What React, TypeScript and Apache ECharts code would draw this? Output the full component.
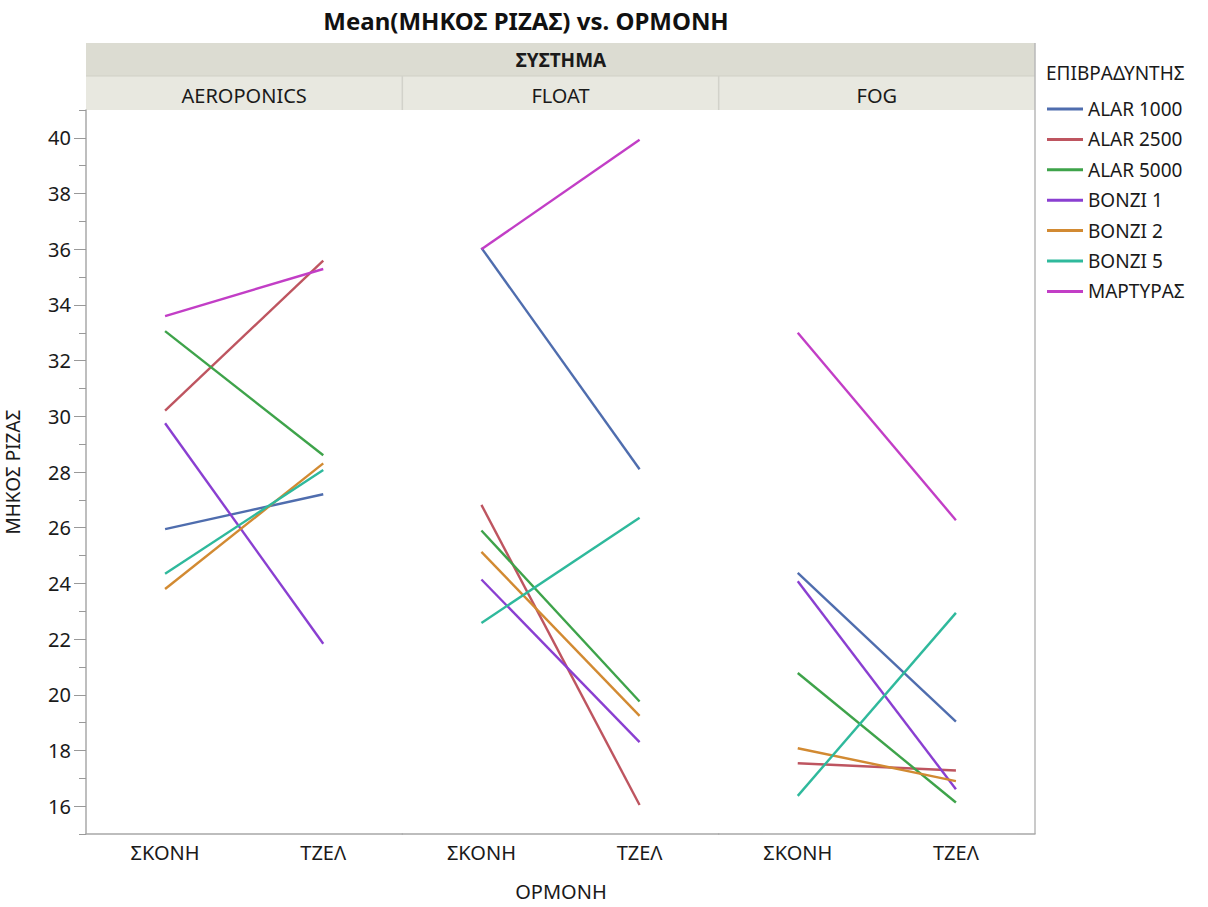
import React, { useEffect, useRef } from "react";
import * as echarts from "echarts";

const categories = ["ΣΚΟΝΗ", "ΤΖΕΛ"];
const systems = ["AEROPONICS", "FLOAT", "FOG"];
const treatments = ["ALAR 1000", "ALAR 2500", "ALAR 5000", "BONZI 1", "BONZI 2", "BONZI 5", "ΜΑΡΤΥΡΑΣ"];
// values per treatment: [AEROPONICS ΣΚΟΝΗ, AEROPONICS ΤΖΕΛ, FLOAT ΣΚΟΝΗ, FLOAT ΤΖΕΛ, FOG ΣΚΟΝΗ, FOG ΤΖΕΛ]
const alar1000 = [25.95, 27.2, 36.05, 28.1, 24.38, 19.04];
const alar2500 = [30.2, 35.59, 26.82, 16.04, 17.54, 17.28];
const alar5000 = [33.06, 28.6, 25.9, 19.76, 20.78, 16.13];
const bonzi1 = [29.75, 21.83, 24.14, 18.3, 24.08, 16.61];
const bonzi2 = [23.8, 28.31, 25.13, 19.24, 18.08, 16.9];
const bonzi5 = [24.35, 28.07, 22.58, 26.36, 16.37, 22.94];
const martyras = [33.6, 35.29, 36.0, 39.93, 33.0, 26.27];
const seriesValues = [alar1000, alar2500, alar5000, bonzi1, bonzi2, bonzi5, martyras];
const colors = ["#4F6DAE", "#BE5560", "#3EA34A", "#8A3FD1", "#D28A32", "#2FB99C", "#C23EC6"];
const majorTicks = [16, 18, 20, 22, 24, 26, 28, 30, 32, 34, 36, 38, 40];
const minorTicks = [15, 17, 19, 21, 23, 25, 27, 29, 31, 33, 35, 37, 39, 41];

const FONT = "'Noto Sans', 'Open Sans', sans-serif";

export default function App() {
  const ref = useRef<HTMLDivElement>(null);
  useEffect(() => {
    document.body.style.margin = "0";
    document.body.style.overflow = "hidden";
    const chart = echarts.init(ref.current!, null, { renderer: "svg" });
    const plotLeft = 86;
    const plotRight = 1035;
    const plotTop = 110;
    const plotBottom = 834;
    const pw = (plotRight - plotLeft) / 3;

    const grids = systems.map((_, i) => ({
      left: plotLeft + i * pw,
      top: plotTop,
      width: pw,
      height: plotBottom - plotTop,
    }));
    const xAxes = systems.map((_, i) => ({
      type: "category",
      gridIndex: i,
      data: categories,
      boundaryGap: true,
      axisLine: { show: true, lineStyle: { color: "#A8A8A8", width: 1.5 } },
      axisTick: { show: false },
      axisLabel: { fontSize: 20, color: "#1a1a1a", margin: 8, fontFamily: FONT },
    }));
    const yAxes: any[] = systems.map((_, i) => ({
      type: "value",
      gridIndex: i,
      min: 15,
      max: 41,
      show: i === 0,
      splitLine: { show: false },
      axisLine: { show: true, lineStyle: { color: "#A8A8A8", width: 1.5 } },
      axisTick: { show: true, length: 12, customValues: majorTicks, lineStyle: { color: "#999" } },
      axisLabel: { customValues: majorTicks, fontSize: 20, color: "#1a1a1a", margin: 15, fontFamily: FONT },
      name: i === 0 ? "ΜΗΚΟΣ ΡΙΖΑΣ" : "",
      nameLocation: "middle",
      nameGap: 64,
      nameRotate: 90,
      nameTextStyle: { fontSize: 19, color: "#1a1a1a", fontFamily: FONT },
    }));
    yAxes.push({
      type: "value",
      gridIndex: 0,
      min: 15,
      max: 41,
      position: "left",
      splitLine: { show: false },
      axisLine: { show: false },
      axisLabel: { show: false },
      axisTick: { show: true, length: 7, customValues: minorTicks, lineStyle: { color: "#999" } },
    });

    const series: any[] = [];
    treatments.forEach((t, ti) => {
      systems.forEach((_, si) => {
        series.push({
          type: "line",
          name: t,
          xAxisIndex: si,
          yAxisIndex: si,
          data: seriesValues[ti].slice(si * 2, si * 2 + 2),
          showSymbol: false,
          symbol: "none",
          lineStyle: { width: 2.4, color: colors[ti] },
          itemStyle: { color: colors[ti] },
        });
      });
    });

    const graphic: any[] = [
      { type: "rect", shape: { x: plotLeft, y: 43, width: plotRight - plotLeft, height: 33 }, style: { fill: "#DCDCD2" } },
      { type: "rect", shape: { x: plotLeft, y: 76, width: plotRight - plotLeft, height: 34 }, style: { fill: "#E8E8E0" } },
      { type: "line", shape: { x1: plotLeft, y1: 76, x2: plotRight, y2: 76 }, style: { stroke: "#D0D0C6", lineWidth: 1 } },
      { type: "line", shape: { x1: plotLeft + pw, y1: 76, x2: plotLeft + pw, y2: 110 }, style: { stroke: "#D2D2CA", lineWidth: 1.5 } },
      { type: "line", shape: { x1: plotLeft + 2 * pw, y1: 76, x2: plotLeft + 2 * pw, y2: 110 }, style: { stroke: "#D2D2CA", lineWidth: 1.5 } },
      { type: "line", shape: { x1: plotRight, y1: 43, x2: plotRight, y2: plotBottom }, style: { stroke: "#B8B8B8", lineWidth: 1.5 } },
      {
        type: "text", x: 526, y: 20,
        style: { text: "Mean(ΜΗΚΟΣ ΡΙΖΑΣ) vs. ΟΡΜΟΝΗ", fontSize: 24, fontWeight: "bold", fill: "#111", fontFamily: FONT, textAlign: "center", textVerticalAlign: "middle" },
      },
      {
        type: "text", x: 561, y: 60,
        style: { text: "ΣΥΣΤΗΜΑ", fontSize: 19, fontWeight: "bold", fill: "#1a1a1a", fontFamily: FONT, textAlign: "center", textVerticalAlign: "middle" },
      },
      ...systems.map((s, i) => ({
        type: "text", x: plotLeft + pw * i + pw / 2, y: 95,
        style: { text: s, fontSize: 20, fill: "#1a1a1a", fontFamily: FONT, textAlign: "center", textVerticalAlign: "middle" },
      })),
      {
        type: "text", x: 561, y: 891,
        style: { text: "ΟΡΜΟΝΗ", fontSize: 20, fill: "#1a1a1a", fontFamily: FONT, textAlign: "center", textVerticalAlign: "middle" },
      },
      {
        type: "text", x: 1046, y: 73,
        style: { text: "ΕΠΙΒΡΑΔΥΝΤΗΣ", fontSize: 19, fill: "#1a1a1a", fontFamily: FONT, textAlign: "left", textVerticalAlign: "middle" },
      },
    ];

    chart.setOption({
      animation: false,
      backgroundColor: "#fff",
      grid: grids,
      xAxis: xAxes,
      yAxis: yAxes,
      series,
      legend: {
        data: treatments.map((t, i) => ({ name: t, itemStyle: { color: colors[i] } })),
        orient: "vertical",
        left: 1042,
        top: 94,
        icon: "rect",
        itemWidth: 36,
        itemHeight: 3,
        itemGap: 10.4,
        selectedMode: false,
        textStyle: { fontSize: 19, lineHeight: 20, color: "#1a1a1a", fontFamily: FONT },
      },
      graphic,
    });
    return () => chart.dispose();
  }, []);
  return <div ref={ref} style={{ position: "absolute", left: 0, top: 0, width: 1208, height: 907 }} />;
}
